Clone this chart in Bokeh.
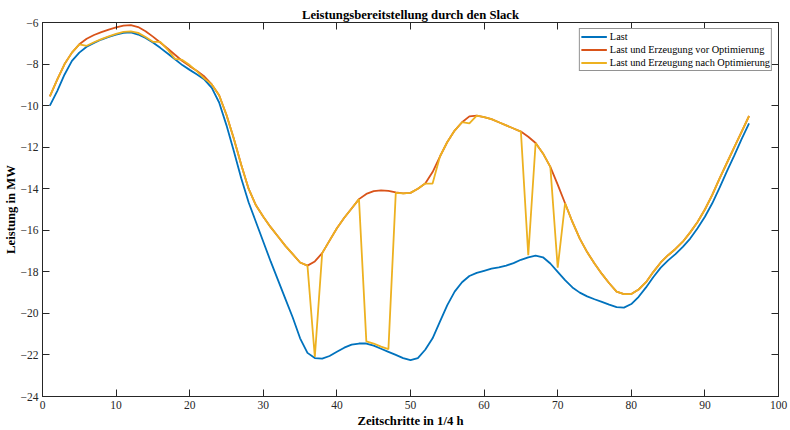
from bokeh.plotting import figure
from bokeh.models import (Range1d, LinearAxis, FixedTicker, Legend, LegendItem,
                          CustomLabelingPolicy)
from bokeh.embed import file_html
from bokeh.resources import INLINE

# quarter-hour time steps
steps = list(range(1, 97))

# load only (MW)
last = [
    -10.0, -9.3, -8.5, -7.85, -7.45, -7.17, -6.98, -6.82, -6.69, -6.58,
    -6.5, -6.48, -6.58, -6.74, -6.96, -7.22, -7.49, -7.77, -8.05, -8.28,
    -8.5, -8.75, -9.15, -9.85, -10.95, -12.2, -13.5, -14.65, -15.6, -16.55,
    -17.5, -18.4, -19.3, -20.2, -21.2, -21.9, -22.15, -22.18, -22.05, -21.85,
    -21.65, -21.5, -21.45, -21.45, -21.55, -21.7, -21.85, -22.0, -22.15, -22.25,
    -22.15, -21.75, -21.2, -20.4, -19.6, -18.95, -18.5, -18.2, -18.05, -17.95,
    -17.85, -17.78, -17.7, -17.58, -17.42, -17.3, -17.22, -17.3, -17.6, -18.0,
    -18.4, -18.75, -19.0, -19.18, -19.32, -19.45, -19.58, -19.7, -19.72, -19.55,
    -19.2, -18.75, -18.25, -17.8, -17.45, -17.15, -16.8, -16.4, -15.9, -15.35,
    -14.7, -13.95, -13.15, -12.4, -11.6, -10.85,
]

# load and generation before optimisation (MW)
vor_opt = [
    -9.55, -8.75, -8.0, -7.45, -7.05, -6.78, -6.6, -6.46, -6.34, -6.24,
    -6.15, -6.13, -6.22, -6.42, -6.68, -6.96, -7.25, -7.55, -7.85, -8.1,
    -8.33, -8.6, -8.98, -9.5, -10.45, -11.6, -12.85, -14.0, -14.8, -15.35,
    -15.85, -16.3, -16.75, -17.15, -17.55, -17.7, -17.5, -17.1, -16.5, -15.9,
    -15.4, -14.95, -14.5, -14.25, -14.12, -14.08, -14.1, -14.18, -14.22, -14.2,
    -14.0, -13.75, -13.2, -12.45, -11.75, -11.2, -10.8, -10.52, -10.48, -10.55,
    -10.65, -10.8, -10.95, -11.1, -11.25, -11.5, -11.8, -12.3, -12.95, -13.8,
    -14.7, -15.6, -16.4, -17.05, -17.6, -18.1, -18.55, -18.95, -19.07, -19.07,
    -18.85, -18.5, -18.0, -17.55, -17.2, -16.9, -16.55, -16.1, -15.6, -15.0,
    -14.3, -13.5, -12.75, -12.0, -11.25, -10.5,
]

# load and generation after optimisation (MW)
nach_opt = [
    -9.55, -8.75, -8.0, -7.45, -7.05, -7.12, -6.95, -6.8, -6.67, -6.55,
    -6.45, -6.43, -6.5, -6.7, -6.93, -6.93, -7.3, -7.75, -7.8, -8.05,
    -8.35, -8.7, -8.98, -9.5, -10.45, -11.6, -12.85, -14.0, -14.8, -15.35,
    -15.85, -16.3, -16.75, -17.15, -17.55, -17.7, -22.1, -17.1, -16.5, -15.9,
    -15.4, -14.95, -14.5, -21.35, -21.45, -21.6, -21.72, -14.2, -14.22, -14.2,
    -14.0, -13.75, -13.75, -12.45, -11.75, -11.2, -10.8, -10.85, -10.48, -10.55,
    -10.65, -10.8, -10.95, -11.1, -11.25, -17.2, -11.8, -12.3, -12.95, -17.8,
    -14.7, -15.6, -16.4, -17.05, -17.6, -18.1, -18.55, -18.95, -19.07, -19.07,
    -18.85, -18.5, -18.0, -17.55, -17.2, -16.9, -16.55, -16.1, -15.6, -15.0,
    -14.3, -13.5, -12.75, -12.0, -11.25, -10.5,
]

x_ticks = list(range(0, 101, 10))
y_ticks = list(range(-24, -5, 2))

SERIF = "Liberation Serif"
AX = "#262626"

p = figure(
    width=790, height=430,
    x_range=Range1d(0, 100), y_range=Range1d(-24, -6),
    output_backend="svg", toolbar_location=None,
    min_border_left=41, min_border_right=12,
    min_border_top=22, min_border_bottom=34,
    title="Leistungsbereitstellung durch den Slack",
)
p.background_fill_color = "white"
p.border_fill_color = "white"
p.outline_line_color = AX
p.outline_line_width = 1
p.grid.visible = False

p.title.align = "center"
p.title.text_font = SERIF
p.title.text_font_style = "bold"
p.title.text_font_size = "12.7px"
p.title.text_color = "black"
p.title.standoff = 2

# box-style axes: labelled bottom/left, tick-only top/right
no_labels = CustomLabelingPolicy(code="for (const i of indices) { if (i < 0) yield i }")
p.add_layout(LinearAxis(major_label_policy=no_labels), "above")
p.add_layout(LinearAxis(major_label_policy=no_labels), "right")

for ax in p.xaxis:
    ax.ticker = FixedTicker(ticks=x_ticks)
for ax in p.yaxis:
    ax.ticker = FixedTicker(ticks=y_ticks)

for ax in p.axis:
    ax.axis_line_color = AX
    ax.axis_line_width = 1
    ax.major_tick_line_color = AX
    ax.major_tick_in = 7
    ax.major_tick_out = 0
    ax.minor_tick_line_color = None
    ax.major_label_text_font = SERIF
    ax.major_label_text_font_size = "11.5px"
    ax.major_label_text_color = AX

for ax in p.above + p.right:
    if isinstance(ax, LinearAxis):
        ax.major_label_text_font_size = "0px"
        ax.major_label_standoff = 0

xa = p.below[0]
xa.axis_label = "Zeitschritte in 1/4 h"
xa.major_label_standoff = 4
xa.axis_label_standoff = 2

ya = p.left[0]
ya.axis_label = "Leistung in MW"
ya.major_label_standoff = 4
ya.axis_label_standoff = 0

for ax in (xa, ya):
    ax.axis_label_text_font = SERIF
    ax.axis_label_text_font_style = "bold"
    ax.axis_label_text_font_size = "12.7px"
    ax.axis_label_text_color = "black"

r_last = p.line(steps, last, line_color="#0072BD", line_width=1.8)
r_vor = p.line(steps, vor_opt, line_color="#D95319", line_width=1.8)
r_nach = p.line(steps, nach_opt, line_color="#EDB120", line_width=1.8)

legend = Legend(items=[
    LegendItem(label="Last", renderers=[r_last]),
    LegendItem(label="Last und Erzeugung vor Optimierung", renderers=[r_vor]),
    LegendItem(label="Last und Erzeugung nach Optimierung", renderers=[r_nach]),
])
legend.location = "top_right"
legend.margin = 6
legend.padding = 1
legend.spacing = 0
legend.label_standoff = 3
legend.glyph_width = 26
legend.glyph_height = 13
legend.label_height = 13
legend.label_text_font = SERIF
legend.label_text_font_size = "10.3px"
legend.label_text_color = "black"
legend.border_line_color = AX
legend.border_line_width = 1
legend.background_fill_color = "white"
legend.background_fill_alpha = 1
p.add_layout(legend)

open("out.html", "w").write(file_html(p, INLINE))
